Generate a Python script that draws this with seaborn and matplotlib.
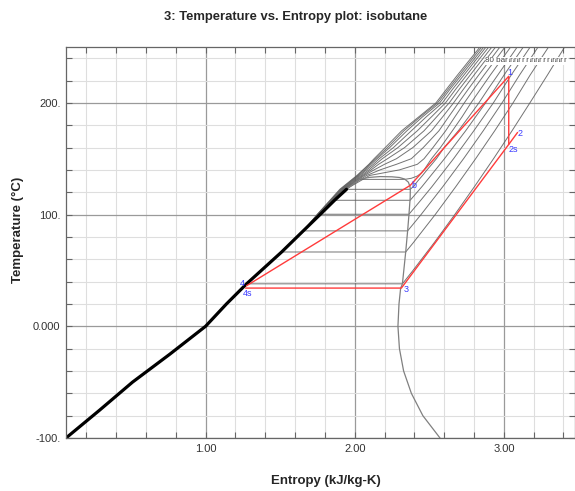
import numpy as np
import pandas as pd
import matplotlib
matplotlib.use("Agg")
import matplotlib.pyplot as plt
import seaborn as sns
from matplotlib.ticker import MultipleLocator, FixedLocator, FixedFormatter

# ---------------- data ----------------
TITLE = "3: Temperature vs. Entropy plot: isobutane"
XLABEL = "Entropy (kJ/kg-K)"
YLABEL = "Temperature (°C)"

XTICKS = [1.0, 2.0, 3.0]
XTICK_LABELS = ["1.00", "2.00", "3.00"]
YTICKS = [-100, 0, 100, 200]
YTICK_LABELS = ["-100.", "0.000", "100.", "200."]

# saturated liquid line (s, T)
LIQ_S = [0.064, 0.29, 0.51, 0.76, 1.00, 1.14, 1.275, 1.51, 1.655, 1.77, 1.865, 1.945, 2.03, 2.10, 2.17]
LIQ_T = [-100, -75, -50, -25, 0, 20, 38, 66.5, 85.4, 100.3, 112.8, 122.6, 131.5, 133.3, 134.0]
# saturated vapour line (from critical point down)
VAP_S = [2.17, 2.25, 2.30, 2.335, 2.36, 2.371, 2.373, 2.372, 2.364, 2.355, 2.342, 2.320, 2.308,
         2.297, 2.29, 2.30, 2.328, 2.38, 2.457, 2.572]
VAP_T = [134.0, 133.8, 133.2, 131.8, 129, 125, 122.6, 115, 100.3, 85.4, 66.5, 38, 34,
         20, 0, -20, -40, -60, -80, -100]

# subcritical isobars: pressure (bar), saturation T, liquid s, vapour s, superheated branch
SUB_P = [5, 10, 15, 20, 25, 30, 35]
SUB_TSAT = [38, 66.5, 85.4, 100.3, 112.8, 122.6, 131.5]
SUB_SL = [1.275, 1.51, 1.655, 1.77, 1.865, 1.945, 2.03]
SUB_SV = [2.320, 2.342, 2.355, 2.364, 2.372, 2.373, 2.335]
SH_S = {
    5: [2.391, 2.534, 2.671, 2.803, 2.931, 3.055, 3.175, 3.293, 3.408],
    10: [2.394, 2.540, 2.678, 2.811, 2.939, 3.062, 3.177, 3.300],
    15: [2.445, 2.591, 2.730, 2.862, 2.988, 3.106, 3.230],
    20: [2.443, 2.518, 2.663, 2.799, 2.930, 3.050, 3.177],
    25: [2.451, 2.602, 2.744, 2.878, 3.002, 3.131],
    30: [2.40, 2.4225, 2.455, 2.485, 2.517, 2.548, 2.60, 2.695, 2.765, 2.833, 2.895, 2.960, 3.090],
    35: [2.38, 2.42, 2.445, 2.465, 2.49, 2.515, 2.575, 2.655, 2.72, 2.78, 2.845, 2.91, 3.046],
}
SH_T = {
    5: [50, 75, 100, 125, 150, 175, 200, 225, 250],
    10: [75, 100, 125, 150, 175, 200, 225, 250],
    15: [100, 125, 150, 175, 200, 225, 250],
    20: [112.8, 125, 150, 175, 200, 225, 250],
    25: [125, 150, 175, 200, 225, 250],
    30: [126, 130, 135, 140, 145, 150, 160, 175, 187.5, 200, 212.5, 225, 250],
    35: [132.5, 134.5, 137, 140, 145, 150, 160, 175, 187.5, 200, 212.5, 225, 250],
}
# supercritical isobars
SC_P = [40, 45, 50, 55, 60, 65, 70, 75, 80]
SC_T = [100.3, 122.6, 135, 140, 145, 150, 160, 175, 187.5, 200, 212.5, 225, 250]
SC_S = {
    40: [1.768, 1.940, 2.100, 2.300, 2.420, 2.465, 2.525, 2.610, 2.672, 2.735, 2.800, 2.868, 3.008],
    45: [1.765, 1.935, 2.080, 2.170, 2.280, 2.380, 2.460, 2.565, 2.630, 2.696, 2.763, 2.832, 2.974],
    50: [1.762, 1.930, 2.065, 2.130, 2.200, 2.280, 2.390, 2.515, 2.590, 2.663, 2.731, 2.801, 2.945],
    55: [1.759, 1.925, 2.055, 2.110, 2.160, 2.220, 2.335, 2.465, 2.550, 2.634, 2.703, 2.775, 2.920],
    60: [1.757, 1.920, 2.045, 2.095, 2.140, 2.185, 2.290, 2.420, 2.515, 2.609, 2.679, 2.752, 2.899],
    65: [1.755, 1.915, 2.035, 2.080, 2.125, 2.165, 2.260, 2.380, 2.480, 2.588, 2.658, 2.733, 2.881],
    70: [1.753, 1.910, 2.027, 2.070, 2.110, 2.150, 2.235, 2.350, 2.455, 2.570, 2.641, 2.717, 2.866],
    75: [1.751, 1.905, 2.020, 2.060, 2.100, 2.140, 2.220, 2.330, 2.440, 2.556, 2.629, 2.703, 2.852],
    80: [1.750, 1.900, 2.015, 2.055, 2.095, 2.130, 2.205, 2.315, 2.430, 2.545, 2.617, 2.690, 2.840],
}

# cycle states
STATE_NAMES = ["1", "2s", "2", "3", "4s", "4", "b"]
STATE_S = [3.033, 3.033, 3.092, 2.313, 1.268, 1.275, 2.373]
STATE_T = [223.8, 162.8, 173.5, 34.2, 34.2, 36.3, 126.2]
CYCLE_PATHS = [["4", "b", "1", "2s"], ["4s", "3", "2s", "2"]]
# label offsets (points)
STATE_OFF = {"1": (1.0, 2.6), "2s": (3.4, -3.6), "2": (1.5, -0.5), "3": (3.1, -0.7),
             "4s": (1.7, -3.6), "4": (-2.9, 1.9), "b": (2.4, 0.2)}

# ---------------- build tables ----------------
rows = []
for p, ts, sl, sv in zip(SUB_P, SUB_TSAT, SUB_SL, SUB_SV):
    k = 0
    for s, t in zip(LIQ_S, LIQ_T):
        if t < ts:
            rows.append((p, k, s, t)); k += 1
    rows.append((p, k, sl, ts)); k += 1
    rows.append((p, k, sv, ts)); k += 1
    for s, t in zip(SH_S[p], SH_T[p]):
        rows.append((p, k, s, t)); k += 1
for p in SC_P:
    k = 0
    for s, t in zip(LIQ_S, LIQ_T):
        if t < SC_T[0]:
            rows.append((p, k, s, t)); k += 1
    for s, t in zip(SC_S[p], SC_T):
        rows.append((p, k, s, t)); k += 1
iso = pd.DataFrame(rows, columns=["p", "k", "s", "T"])

dome = pd.DataFrame({"s": LIQ_S + VAP_S, "T": LIQ_T + VAP_T})
liq_black = pd.DataFrame({"s": [s for s, t in zip(LIQ_S, LIQ_T) if t <= 122.6],
                          "T": [t for t in LIQ_T if t <= 122.6]})
states = pd.DataFrame({"name": STATE_NAMES, "s": STATE_S, "T": STATE_T}).set_index("name")

# ---------------- figure ----------------
sns.set_style("ticks")
plt.rcParams["font.family"] = ["Liberation Sans", "DejaVu Sans"]

fig = plt.figure(figsize=(5.75, 4.91), dpi=100)
ax = fig.add_axes([66 / 575, 1 - 438 / 491, 508.5 / 575, 391 / 491])
ax.set_xlim(0.064, 3.474)
ax.set_ylim(-100, 250)

ax.xaxis.set_major_locator(FixedLocator(XTICKS))
ax.xaxis.set_major_formatter(FixedFormatter(XTICK_LABELS))
ax.yaxis.set_major_locator(FixedLocator(YTICKS))
ax.yaxis.set_major_formatter(FixedFormatter(YTICK_LABELS))
ax.xaxis.set_minor_locator(MultipleLocator(0.2))
ax.yaxis.set_minor_locator(MultipleLocator(20))
ax.set_axisbelow(True)
ax.grid(which="minor", color="#dedede", lw=0.8)
ax.grid(which="major", color="#9a9a9a", lw=0.9)
ax.tick_params(which="both", direction="in", top=True, right=True, length=4,
               width=0.8, color="#666666")
ax.tick_params(which="major", labelsize=8, labelcolor="#333333", pad=4)
for sp in ax.spines.values():
    sp.set_color("#666666"); sp.set_linewidth(0.9)

# isobars
sns.lineplot(data=iso, x="s", y="T", units="p", estimator=None, sort=False,
             color="#5a5a5a", lw=0.7, alpha=0.85, ax=ax, legend=False)
# dome
sns.lineplot(data=dome, x="s", y="T", estimator=None, sort=False,
             color="#808080", lw=0.9, ax=ax, legend=False)
sns.lineplot(data=liq_black, x="s", y="T", estimator=None, sort=False,
             color="black", lw=2.3, ax=ax, legend=False)

# cycle
for path in CYCLE_PATHS:
    seg = states.loc[path].reset_index()
    sns.lineplot(data=seg, x="s", y="T", estimator=None, sort=False,
                 color="#ff3b3b", lw=1.0, ax=ax, legend=False, zorder=5)
for name in STATE_NAMES:
    ax.annotate(name, (states.loc[name, "s"], states.loc[name, "T"]),
                xytext=STATE_OFF[name], textcoords="offset points",
                ha="center", va="center", fontsize=6.5, color="#3a3aff", zorder=6)

# isobar labels (overlapping, as in the reference)
all_p = SC_P[::-1] + SUB_P[::-1]
for i, p in enumerate(all_p):
    ax.text(2.877 + i * 0.0281, 237.5, f"{p} bar", fontsize=5.8, color="#444444",
            ha="left", va="center", zorder=20 - i, clip_on=True,
            bbox=dict(facecolor="white", edgecolor="none", pad=0.6))

ax.set_xlabel(XLABEL, fontsize=9.5, fontweight="bold")
ax.set_ylabel(YLABEL, fontsize=9.5, fontweight="bold")
ax.xaxis.set_label_coords(0.511, -0.095)
ax.yaxis.set_label_coords(-0.082, 0.532)
fig.text(0.514, 0.966, TITLE, ha="center", va="center", fontsize=9.4, fontweight="bold")

fig.savefig("out.png", dpi=100)
